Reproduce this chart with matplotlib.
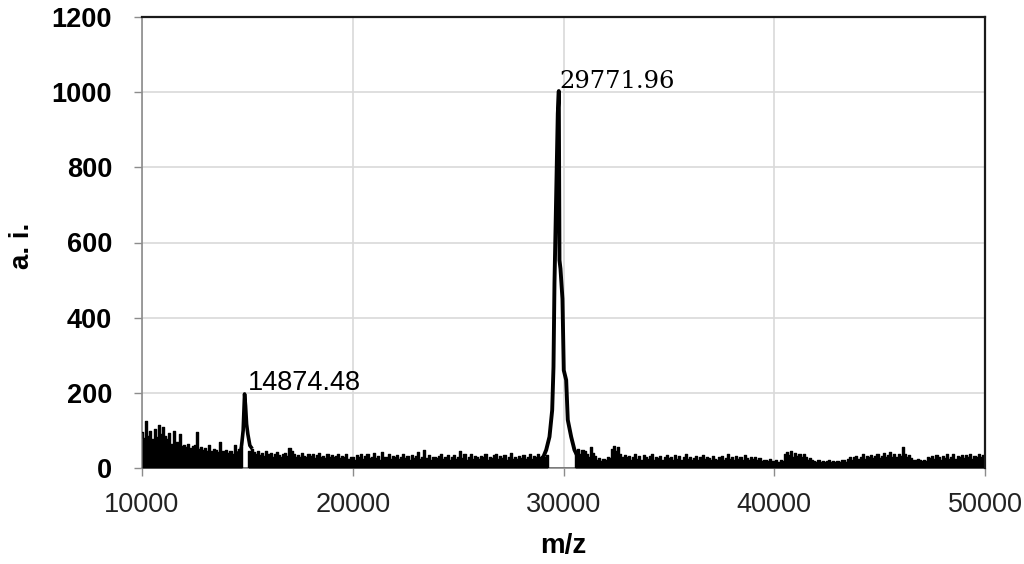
import matplotlib
matplotlib.use("Agg")
import matplotlib.pyplot as plt
import numpy as np

# ---------------- data ----------------
# baseline noise intensity, one value every 100 m/z from 10000 to 50000
noise_start = 10000
noise_step = 100
noise_rows = [
    [95, 80, 124, 85, 99, 78, 104, 82, 115, 90],      # 10000
    [108, 86, 77, 92, 64, 98, 70, 68, 90, 59],        # 11000
    [62, 55, 64, 52, 58, 60, 95, 50, 56, 48],         # 12000
    [52, 45, 60, 44, 50, 47, 42, 68, 46, 44],         # 13000
    [48, 40, 46, 38, 60, 42, 50, 55, 0, 0],           # 14000
    [0, 45, 50, 42, 38, 46, 35, 40, 33, 44],          # 15000
    [36, 40, 30, 38, 42, 34, 28, 36, 40, 32],         # 16000
    [52, 45, 38, 30, 35, 28, 40, 33, 29, 36],         # 17000
    [31, 38, 27, 34, 40, 29, 33, 26, 37, 30],         # 18000
    [35, 28, 32, 38, 26, 33, 29, 36, 25, 30],         # 19000
    [30, 22, 35, 28, 38, 25, 32, 36, 27, 30],         # 20000
    [40, 26, 33, 22, 42, 28, 30, 38, 24, 31],         # 21000
    [28, 35, 24, 30, 38, 26, 32, 22, 34, 27],         # 22000
    [33, 42, 25, 30, 48, 27, 35, 22, 30, 28],         # 23000
    [26, 32, 36, 24, 30, 34, 22, 28, 35, 25],         # 24000
    [30, 44, 27, 36, 22, 30, 38, 25, 31, 28],         # 25000
    [24, 32, 28, 36, 22, 30, 26, 34, 38, 23],         # 26000
    [31, 26, 35, 22, 28, 40, 25, 30, 24, 33],         # 27000
    [27, 34, 25, 30, 38, 24, 32, 28, 36, 30],         # 28000
    [32, 28, 34, 0, 0, 0, 0, 0, 0, 0],                # 29000
    [0, 0, 0, 0, 0, 0, 45, 50, 38, 48],               # 30000
    [44, 38, 30, 56, 40, 32, 22, 26, 19, 24],         # 31000
    [20, 28, 26, 50, 58, 46, 55, 38, 30, 35],         # 32000
    [28, 33, 22, 30, 36, 25, 32, 22, 34, 28],         # 33000
    [24, 31, 36, 22, 30, 26, 33, 21, 29, 35],         # 34000
    [26, 30, 22, 34, 25, 31, 20, 28, 36, 24],         # 35000
    [30, 22, 27, 33, 21, 29, 35, 23, 30, 26],         # 36000
    [22, 31, 25, 20, 28, 33, 22, 27, 36, 24],         # 37000
    [29, 21, 32, 25, 30, 22, 34, 26, 20, 28],         # 38000
    [24, 30, 20, 26, 18, 22, 20, 19, 24, 18],         # 39000
    [18, 20, 17, 22, 19, 38, 42, 35, 44, 30],         # 40000
    [40, 33, 38, 28, 36, 30, 22, 26, 20, 18],         # 41000
    [17, 20, 16, 19, 15, 18, 20, 16, 19, 17],         # 42000
    [18, 16, 20, 22, 17, 25, 30, 22, 28, 33],         # 43000
    [24, 30, 36, 25, 32, 28, 35, 26, 31, 38],         # 44000
    [27, 33, 40, 29, 35, 42, 30, 38, 28, 36],         # 45000
    [32, 55, 38, 28, 34, 26, 22, 20, 24, 21],         # 46000
    [19, 22, 18, 30, 26, 32, 24, 35, 28, 22],         # 47000
    [33, 26, 36, 24, 30, 38, 25, 32, 28, 35],         # 48000
    [26, 34, 30, 37, 25, 32, 29, 36, 30, 34],         # 49000
    [30],                                             # 50000
]

# peak near 14874.48
peak1_mz = [14600, 14680, 14740, 14800, 14867, 14914, 14962, 15023, 15118, 15180]
peak1_int = [40, 40, 68, 100, 197, 165, 117, 90, 60, 55]

# peak near 29771.96
peak2_mz = [29018, 29179, 29335, 29463, 29525, 29572, 29729, 29777,
            29809, 29857, 29951, 30013, 30127, 30203, 30364, 30520, 30677]
peak2_int = [26, 48, 83, 154, 269, 492, 943, 1003,
             553, 530, 450, 260, 234, 128, 83, 48, 30]

labels = ["14874.48", "29771.96"]
label_mz = [15023, 29809]
label_int = [207, 1011]

x_ticks = [10000, 20000, 30000, 40000, 50000]
y_ticks = [0, 200, 400, 600, 800, 1000, 1200]

# ---------------- figure ----------------
noise = [v for row in noise_rows for v in row]
noise_mz = noise_start + noise_step * np.arange(len(noise))

fig = plt.figure(figsize=(10.24, 5.64), dpi=100)
ax = fig.add_axes([142 / 1024, 1 - 468 / 564, (985 - 142) / 1024, (468 - 17) / 564])

ax.set_xlim(10000, 50000)
ax.set_ylim(0, 1200)
ax.set_xticks(x_ticks)
ax.set_yticks(y_ticks)

ax.grid(True, color="#d9d9d9", linewidth=1.2)
ax.set_axisbelow(True)

ax.fill_between(noise_mz, 0, noise, step="mid", color="black", linewidth=0, zorder=3)
ax.step(noise_mz, noise, where="mid", color="black", linewidth=1.0, zorder=3)
ax.plot(peak1_mz, peak1_int, color="black", linewidth=2.6, zorder=4)
ax.plot(peak2_mz, peak2_int, color="black", linewidth=2.8, zorder=4)

ax.text(label_mz[0], label_int[0], labels[0], family="Liberation Sans",
        fontsize=19.5, ha="left", va="baseline", color="black", zorder=5)
ax.text(label_mz[1], label_int[1], labels[1], family="DejaVu Serif",
        fontsize=17.5, ha="left", va="baseline", color="black", zorder=5)

for s in ["left", "bottom"]:
    ax.spines[s].set_color("#8c8c8c")
    ax.spines[s].set_linewidth(1.2)
for s in ["top", "right"]:
    ax.spines[s].set_color("#1a1a1a")
    ax.spines[s].set_linewidth(1.6)
    ax.spines[s].set_zorder(6)

ax.tick_params(axis="both", direction="out", length=5.5, width=1.0, color="#8c8c8c")
ax.tick_params(axis="y", pad=16)
ax.tick_params(axis="x", pad=12)
for lab in ax.get_xticklabels():
    lab.set_family("Liberation Sans")
    lab.set_fontsize(19.5)
    lab.set_color("#222222")
for lab in ax.get_yticklabels():
    lab.set_family("Liberation Sans")
    lab.set_fontsize(19.5)
    lab.set_fontweight("bold")
    lab.set_color("black")

fig.text(563 / 1024, 1 - 546 / 564, "m/z", family="Liberation Sans", fontsize=20,
         fontweight="bold", ha="center", va="center")
fig.text(22 / 1024, 1 - 246 / 564, "a. i.", family="Liberation Sans", fontsize=20,
         fontweight="bold", ha="center", va="center", rotation=90)

fig.savefig("out.png", dpi=100)
